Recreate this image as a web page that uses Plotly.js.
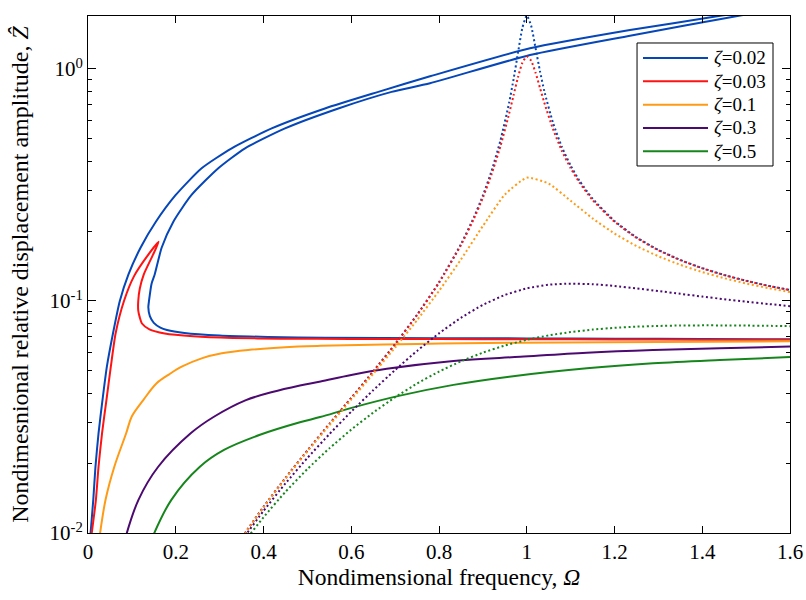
<!DOCTYPE html>
<html><head><meta charset="utf-8">
<script src="https://cdn.plot.ly/plotly-3.0.1.min.js"></script>
<style>html,body{margin:0;padding:0;background:#fff}#chart{width:806px;height:600px}
#chart svg text{font-family:"Liberation Serif",serif !important}</style>
</head><body><div id="chart"></div>
<script>
// ---- data ----
const zetaLabels = ['0.02', '0.03', '0.1', '0.3', '0.5'];

// solid lines (nonlinear response)
const blueSolidX = [0.005,0.012,0.017,0.024,0.033,0.043,0.057,0.0725,0.092,0.12,0.155,0.20,0.259,0.3275,0.4186,0.54,0.6617,0.7795,1.0074,1.2353,1.448,1.50,1.55,1.494,1.2353,1.0074,0.7795,0.692,0.5706,0.449,0.358,0.297,0.236,0.1945,0.168,0.152,0.145,0.139,0.1375,0.141,0.15,0.165,0.18,0.22,0.30,0.41,0.54,0.8,1.0,1.2,1.4,1.6];
const blueSolidY = [0.0095,0.0139,0.0193,0.0269,0.0374,0.0521,0.0726,0.1,0.13,0.17,0.22,0.2864,0.3733,0.455,0.5547,0.676,0.797,0.93,1.228,1.472,1.704,1.78,1.78,1.71,1.392,1.149,0.868,0.797,0.676,0.5547,0.455,0.3733,0.2864,0.2198,0.17,0.13,0.119,0.1,0.094,0.086,0.0805,0.0768,0.075,0.0728,0.071,0.07,0.0694,0.0691,0.069,0.0688,0.0686,0.0684];
const redSolidX = [0.007,0.018,0.024,0.032,0.042,0.052,0.063,0.082,0.105,0.135,0.161,0.148,0.127,0.118,0.1145,0.1145,0.118,0.123,0.14,0.175,0.24,0.33,0.44,0.6,0.8,1.0,1.2,1.4,1.6];
const redSolidY = [0.0095,0.0139,0.0193,0.0269,0.0374,0.0521,0.0726,0.1,0.128,0.156,0.18,0.158,0.13,0.113,0.1,0.091,0.085,0.08,0.0755,0.0725,0.0705,0.0693,0.0688,0.0686,0.0685,0.0684,0.0683,0.0681,0.068];
const orangeSolidX = [0.026,0.040,0.060,0.087,0.0995,0.126,0.1565,0.185,0.2135,0.259,0.305,0.365,0.479,0.53,0.75,0.985,1.3,1.6];
const orangeSolidY = [0.0095,0.0139,0.0193,0.0269,0.0317,0.0374,0.0442,0.0483,0.0521,0.0566,0.0595,0.0615,0.0636,0.0641,0.0653,0.0661,0.0666,0.067];
const purpleSolidX = [0.085,0.115,0.16,0.234,0.287,0.36,0.42,0.483,0.53,0.6,0.681,0.833,0.985,1.137,1.288,1.44,1.6];
const purpleSolidY = [0.0095,0.0139,0.0193,0.0269,0.0317,0.0374,0.0405,0.0432,0.045,0.048,0.051,0.0551,0.0575,0.0599,0.0615,0.0625,0.0636];
const greenSolidX = [0.147,0.19,0.255,0.31,0.392,0.483,0.529,0.605,0.711,0.833,0.96,1.137,1.288,1.44,1.6];
const greenSolidY = [0.0096,0.0139,0.0193,0.0228,0.0265,0.03,0.0316,0.0348,0.0391,0.0435,0.0472,0.0513,0.0539,0.0557,0.0573];

// dotted lines (linear response)
const omegaDense = [0.34,0.36,0.40,0.45,0.50,0.55,0.60,0.65,0.70,0.75,0.80,0.85,0.88,0.90,0.92,0.94,0.96,0.97,0.98,0.99,1.00,1.01,1.02,1.03,1.04,1.06,1.08,1.10,1.12,1.15,1.20,1.25,1.30,1.35,1.40,1.45,1.50,1.55,1.60];
const blueDot = [0.00889,0.01012,0.01295,0.01726,0.02266,0.02948,0.03822,0.0497,0.06523,0.08722,0.1204,0.1757,0.2306,0.2848,0.3644,0.4912,0.7178,0.905,1.172,1.504,1.70,1.537,1.232,0.9812,0.803,0.5847,0.4614,0.3835,0.3302,0.2761,0.2212,0.1881,0.1661,0.1503,0.1386,0.1295,0.1223,0.1164,0.1115];
const redDot = [0.00889,0.01012,0.01295,0.01726,0.02265,0.02946,0.03819,0.04964,0.06511,0.08697,0.1198,0.1741,0.2273,0.2788,0.3527,0.4645,0.6442,0.7714,0.9213,1.0639,1.1333,1.0865,0.9648,0.8315,0.7159,0.5497,0.4442,0.3738,0.3242,0.2727,0.2196,0.1872,0.1655,0.1500,0.1383,0.1293,0.1221,0.1162,0.1114];
const omegaWide = [0.34,0.36,0.40,0.45,0.50,0.55,0.60,0.65,0.70,0.75,0.80,0.85,0.90,0.95,1.00,1.05,1.10,1.15,1.20,1.25,1.30,1.35,1.40,1.45,1.50,1.55,1.60];
const orangeDot = [0.00886,0.01009,0.01289,0.01716,0.02247,0.02913,0.0376,0.04853,0.063,0.0827,0.1105,0.151,0.2105,0.2874,0.34,0.3208,0.2705,0.227,0.1954,0.1726,0.1559,0.1432,0.1333,0.1254,0.119,0.1137,0.1093];
const purpleDot = [0.00866,0.00983,0.01245,0.01636,0.02105,0.02666,0.03334,0.04123,0.05043,0.06094,0.07253,0.08462,0.09622,0.1061,0.1133,0.1175,0.1188,0.1181,0.1161,0.1133,0.1104,0.1074,0.1045,0.1018,0.0993,0.0971,0.095];
const greenDot = [0.0083,0.00936,0.01169,0.01504,0.01886,0.02316,0.0279,0.03304,0.03847,0.04405,0.04961,0.05495,0.05988,0.06426,0.068,0.07106,0.07347,0.0753,0.07661,0.07751,0.07808,0.0784,0.07851,0.07849,0.07836,0.07816,0.0779];

const xTickVals = [0, 0.2, 0.4, 0.6, 0.8, 1, 1.2, 1.4, 1.6];
const yTickVals = [0.01, 0.1, 1];
const yTickText = ['10<sup>-2</sup>', '10<sup>-1</sup>', '10<sup>0</sup>'];
const yMinorVals = [0.02,0.03,0.04,0.05,0.06,0.07,0.08,0.09,0.2,0.3,0.4,0.5,0.6,0.7,0.8,0.9];

// ---- styles ----
const colors = ['#0546B8', '#FF1212', '#FF9A14', '#4C0A70', '#16861C'];
const FONT = 'Liberation Serif';
const Y_RANGE = [-2, 0.2284];

const solids = [[blueSolidX, blueSolidY], [redSolidX, redSolidY], [orangeSolidX, orangeSolidY], [purpleSolidX, purpleSolidY], [greenSolidX, greenSolidY]];
const dots = [[omegaDense, blueDot], [omegaDense, redDot], [omegaWide, orangeDot], [omegaWide, purpleDot], [omegaWide, greenDot]];

const traces = [];
solids.forEach((s, i) => {
  traces.push({x: s[0], y: s[1], type: 'scatter', mode: 'lines',
    line: {color: colors[i], width: 2, shape: 'spline', smoothing: i >= 2 ? 1 : 0.6}, showlegend: false, hoverinfo: 'skip'});
});
dots.forEach((d, i) => {
  traces.push({x: d[0], y: d[1], type: 'scatter', mode: 'lines', yaxis: i === 4 ? 'y2' : 'y',
    line: {color: colors[i], width: 2, dash: '2px,2.6px', shape: 'spline', smoothing: 0.5}, showlegend: false, hoverinfo: 'skip'});
});

// legend box drawn in paper coordinates
const shapes = [{type: 'rect', xref: 'paper', yref: 'paper', x0: 0.7821, x1: 0.9758, y0: 0.7099, y1: 0.9478,
  line: {color: '#000', width: 1}, fillcolor: '#fff', layer: 'above'}];
const annotations = [];
const legY = [0.9188, 0.8737, 0.8285, 0.7834, 0.7383];
zetaLabels.forEach((z, i) => {
  shapes.push({type: 'line', xref: 'paper', yref: 'paper', x0: 0.7906, x1: 0.8832, y0: legY[i], y1: legY[i],
    line: {color: colors[i], width: 2}, layer: 'above'});
  annotations.push({xref: 'paper', yref: 'paper', x: 0.8895, y: legY[i], xanchor: 'left', yanchor: 'middle',
    text: '<i>ζ</i>=' + z, showarrow: false, font: {family: FONT, size: 19, color: '#000'}});
});

const layout = {
  width: 806, height: 600,
  margin: {l: 88, r: 16, t: 16, b: 67},
  paper_bgcolor: '#fff', plot_bgcolor: '#fff',
  showlegend: false,
  font: {family: FONT, size: 21, color: '#000'},
  xaxis: {range: [0, 1.6], tickvals: xTickVals, ticks: 'inside', ticklen: 7, tickcolor: '#000',
    showline: true, linecolor: '#000', linewidth: 1, mirror: 'ticks', showgrid: false, zeroline: false,
    tickfont: {family: FONT, size: 21},
    title: {text: 'Nondimensional frequency, <i>Ω</i>', font: {family: FONT, size: 23.5}, standoff: 4}},
  yaxis: {type: 'log', range: Y_RANGE, tickvals: yTickVals, ticktext: yTickText, ticks: 'inside', ticklen: 8, tickcolor: '#000',
    showline: true, linecolor: '#000', linewidth: 1, mirror: 'ticks', showgrid: false, zeroline: false,
    tickfont: {family: FONT, size: 21},
    title: {text: 'Nondimesnional relative displacement amplitude, <i>Ẑ</i>', font: {family: FONT, size: 24}, standoff: 14}},
  yaxis2: {type: 'log', range: Y_RANGE, overlaying: 'y', side: 'left', tickvals: yMinorVals, showticklabels: false,
    ticks: 'inside', ticklen: 4, tickcolor: '#000', mirror: 'ticks', showline: false, showgrid: false, zeroline: false},
  shapes: shapes,
  annotations: annotations
};

Plotly.newPlot('chart', traces, layout, {displayModeBar: false});
</script>
</body></html>
